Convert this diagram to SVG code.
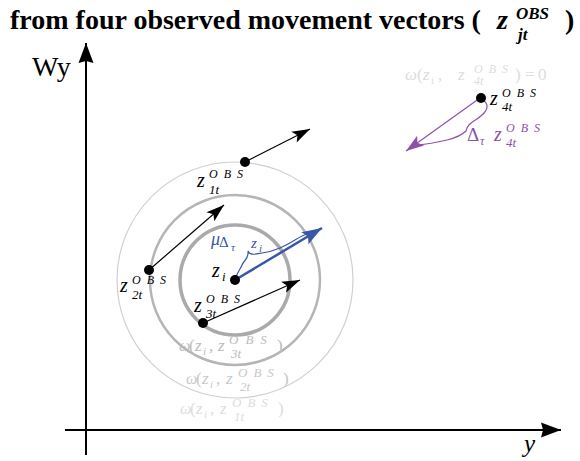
<svg xmlns="http://www.w3.org/2000/svg" width="580" height="461" viewBox="0 0 580 461">
<defs>
<marker id="axh" markerUnits="userSpaceOnUse" markerWidth="22" markerHeight="16" refX="20" refY="7.5" orient="auto" overflow="visible"><path d="M0,0 L20,7.5 L0,15 L2,7.5 Z" fill="#000"/></marker>
<marker id="ah" markerUnits="userSpaceOnUse" markerWidth="20" markerHeight="14" refX="18" refY="6" orient="auto" overflow="visible"><path d="M0,0 L18,6 L0,12 L4,6 Z" fill="#000"/></marker>
<marker id="ahb" markerUnits="userSpaceOnUse" markerWidth="22" markerHeight="16" refX="20" refY="7" orient="auto" overflow="visible"><path d="M0,0 L20,7 L0,14 L4,7 Z" fill="#3a56a8"/></marker>
<marker id="ahp" markerUnits="userSpaceOnUse" markerWidth="20" markerHeight="14" refX="18" refY="6" orient="auto" overflow="visible"><path d="M0,0 L18,6 L0,12 L4,6 Z" fill="#8c52a8"/></marker>
</defs>

<g id="title">
<text x="10" y="29" font-family="Liberation Serif" font-weight="bold" font-size="28">from four observed movement vectors (</text>
<text x="497" y="29" font-family="Liberation Serif" font-weight="bold" font-style="italic" font-size="28">z</text>
<text x="516" y="19" font-family="Liberation Serif" font-weight="bold" font-style="italic" font-size="17">OBS</text>
<text x="518" y="40" font-family="Liberation Serif" font-weight="bold" font-style="italic" font-size="17">jt</text>
<text x="565" y="29" font-family="Liberation Serif" font-weight="bold" font-size="28">)</text>
</g>

<g id="rings" fill="none">
<circle cx="235" cy="280" r="118" stroke="#d0d0d0" stroke-width="1.2"/>
<circle cx="235" cy="280" r="85" stroke="#b5b5b5" stroke-width="2.5"/>
<circle cx="235" cy="280" r="55" stroke="#aaaaaa" stroke-width="3.5"/>
</g>

<g id="connectors" fill="none">
<line x1="86" y1="455" x2="86" y2="43" stroke="#000" stroke-width="2" marker-end="url(#axh)"/>
<line x1="65" y1="430" x2="561" y2="430" stroke="#000" stroke-width="2" marker-end="url(#axh)"/>
<line x1="245" y1="162" x2="310" y2="129" stroke="#000" stroke-width="1.2" marker-end="url(#ah)"/>
<line x1="149" y1="270" x2="224" y2="205" stroke="#000" stroke-width="1.2" marker-end="url(#ah)"/>
<line x1="203" y1="323" x2="300" y2="280" stroke="#000" stroke-width="1.2" marker-end="url(#ah)"/>
<line x1="235" y1="280" x2="322" y2="228" stroke="#3a56a8" stroke-width="2.5" marker-end="url(#ahb)"/>
<line x1="480" y1="98" x2="406" y2="151" stroke="#8c52a8" stroke-width="1.2" marker-end="url(#ahp)"/>
<path d="M236,277 C238,271 241,268 242,265 C244,260 249,259 248,251 C250,256 256,254 262,253 C276,251 285,246 295,240 C300,237 303,235 307,234" stroke="#3a56a8" stroke-width="1.2"/>
<path d="M483,100 C489,104 488,110 482,115 C476,121 468,122 466,131 C462,135 455,138 447,140 C438,142 428,144 418,145" stroke="#8c52a8" stroke-width="1.2"/>
</g>

<g id="axis-labels">
<text x="32" y="76" font-family="Liberation Serif" font-size="28">Wy</text>
<text x="524" y="452" font-family="Liberation Serif" font-style="italic" font-size="25">y</text>
</g>

<g id="z1t">
<circle cx="245" cy="162" r="5" fill="#000"/>
<text x="197" y="187" font-family="Liberation Serif" font-style="italic" font-size="20">z</text>
<text x="209" y="178" font-family="Liberation Serif" font-style="italic" font-size="12" letter-spacing="6">OBS</text>
<text x="209" y="194" font-family="Liberation Serif" font-style="italic" font-size="13">1t</text>
</g>

<g id="z2t">
<circle cx="149" cy="270" r="5" fill="#000"/>
<text x="120" y="292" font-family="Liberation Serif" font-style="italic" font-size="20">z</text>
<text x="132" y="284" font-family="Liberation Serif" font-style="italic" font-size="12" letter-spacing="6">OBS</text>
<text x="132" y="299" font-family="Liberation Serif" font-style="italic" font-size="13">2t</text>
</g>

<g id="z3t">
<circle cx="203" cy="323" r="5" fill="#000"/>
<text x="194" y="312" font-family="Liberation Serif" font-style="italic" font-size="20">z</text>
<text x="206" y="303" font-family="Liberation Serif" font-style="italic" font-size="12" letter-spacing="6">OBS</text>
<text x="206" y="318" font-family="Liberation Serif" font-style="italic" font-size="13">3t</text>
</g>

<g id="zi">
<circle cx="235" cy="280" r="5" fill="#000"/>
<text x="212" y="277" font-family="Liberation Serif" font-style="italic" font-size="20">z</text>
<text x="222" y="281" font-family="Liberation Serif" font-style="italic" font-size="13">i</text>
<text x="211" y="245" font-family="Liberation Serif" font-style="italic" font-size="18" fill="#3a56a8">μ</text>
<text x="219" y="247" font-family="Liberation Serif" font-size="15" fill="#3a56a8">Δ</text>
<text x="231" y="251" font-family="Liberation Serif" font-style="italic" font-size="11" fill="#3a56a8">τ</text>
<text x="251" y="248" font-family="Liberation Serif" font-style="italic" font-size="15" fill="#3a56a8">z</text>
<text x="259" y="252" font-family="Liberation Serif" font-style="italic" font-size="11" fill="#3a56a8">i</text>
</g>

<g id="z4t">
<circle cx="481" cy="98" r="5" fill="#000"/>
<text x="490" y="105" font-family="Liberation Serif" font-style="italic" font-size="20">z</text>
<text x="502" y="97" font-family="Liberation Serif" font-style="italic" font-size="12" letter-spacing="6">OBS</text>
<text x="502" y="111" font-family="Liberation Serif" font-style="italic" font-size="13">4t</text>
<text x="467" y="141" font-family="Liberation Serif" font-size="19" fill="#8c52a8">Δ</text>
<text x="480" y="145" font-family="Liberation Serif" font-style="italic" font-size="12" fill="#8c52a8">τ</text>
<text x="494" y="141" font-family="Liberation Serif" font-style="italic" font-size="20" fill="#8c52a8">z</text>
<text x="506" y="132" font-family="Liberation Serif" font-style="italic" font-size="12" letter-spacing="6" fill="#8c52a8">OBS</text>
<text x="506" y="147" font-family="Liberation Serif" font-style="italic" font-size="13" fill="#8c52a8">4t</text>
<g fill="#dddddd">
<text x="405" y="80" font-family="Liberation Serif" font-style="italic" font-size="17">ω</text>
<text x="417" y="80" font-family="Liberation Serif" font-size="17">(</text>
<text x="423" y="80" font-family="Liberation Serif" font-style="italic" font-size="17">z</text>
<text x="431" y="84" font-family="Liberation Serif" font-style="italic" font-size="11">i</text>
<text x="438" y="80" font-family="Liberation Serif" font-size="17">,</text>
<text x="458" y="80" font-family="Liberation Serif" font-style="italic" font-size="17">z</text>
<text x="474" y="73" font-family="Liberation Serif" font-style="italic" font-size="12" letter-spacing="6">OBS</text>
<text x="474" y="85" font-family="Liberation Serif" font-style="italic" font-size="12">4t</text>
<text x="515" y="80" font-family="Liberation Serif" font-size="17">)</text>
<text x="525" y="80" font-family="Liberation Serif" font-size="17">=</text>
<text x="538" y="80" font-family="Liberation Serif" font-size="17">0</text>
</g>
</g>

<g id="omega3" fill="#bbbbbb">
<text x="179" y="351" font-family="Liberation Serif" font-style="italic" font-size="16">ω</text>
<text x="189" y="351" font-family="Liberation Serif" font-size="17">(</text>
<text x="195" y="351" font-family="Liberation Serif" font-style="italic" font-size="17">z</text>
<text x="203" y="355" font-family="Liberation Serif" font-style="italic" font-size="11">i</text>
<text x="209" y="351" font-family="Liberation Serif" font-size="17">,</text>
<text x="218" y="351" font-family="Liberation Serif" font-style="italic" font-size="17">z</text>
<text x="229" y="344" font-family="Liberation Serif" font-style="italic" font-size="13" letter-spacing="7">OBS</text>
<text x="231" y="358" font-family="Liberation Serif" font-style="italic" font-size="13">3t</text>
<text x="277" y="351" font-family="Liberation Serif" font-size="17">)</text>
</g>

<g id="omega2" fill="#c8c8c8">
<text x="186" y="384" font-family="Liberation Serif" font-style="italic" font-size="16">ω</text>
<text x="196" y="384" font-family="Liberation Serif" font-size="17">(</text>
<text x="202" y="384" font-family="Liberation Serif" font-style="italic" font-size="17">z</text>
<text x="210" y="388" font-family="Liberation Serif" font-style="italic" font-size="11">i</text>
<text x="216" y="384" font-family="Liberation Serif" font-size="17">,</text>
<text x="226" y="384" font-family="Liberation Serif" font-style="italic" font-size="17">z</text>
<text x="238" y="377" font-family="Liberation Serif" font-style="italic" font-size="13" letter-spacing="6">OBS</text>
<text x="240" y="391" font-family="Liberation Serif" font-style="italic" font-size="13">2t</text>
<text x="283" y="384" font-family="Liberation Serif" font-size="17">)</text>
</g>

<g id="omega1" fill="#dddddd">
<text x="180" y="414" font-family="Liberation Serif" font-style="italic" font-size="16">ω</text>
<text x="190" y="414" font-family="Liberation Serif" font-size="17">(</text>
<text x="196" y="414" font-family="Liberation Serif" font-style="italic" font-size="17">z</text>
<text x="204" y="418" font-family="Liberation Serif" font-style="italic" font-size="11">i</text>
<text x="210" y="414" font-family="Liberation Serif" font-size="17">,</text>
<text x="220" y="414" font-family="Liberation Serif" font-style="italic" font-size="17">z</text>
<text x="232" y="407" font-family="Liberation Serif" font-style="italic" font-size="13" letter-spacing="6">OBS</text>
<text x="234" y="421" font-family="Liberation Serif" font-style="italic" font-size="13">1t</text>
<text x="278" y="414" font-family="Liberation Serif" font-size="17">)</text>
</g>
</svg>
